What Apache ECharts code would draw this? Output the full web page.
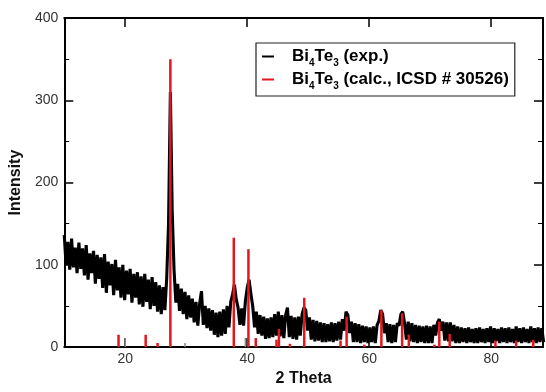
<!DOCTYPE html>
<html>
<head>
<meta charset="utf-8">
<script src="https://cdn.jsdelivr.net/npm/echarts@6/dist/echarts.min.js"></script>
<style>
  html, body { margin: 0; padding: 0; background: #fff; }
  #chart { width: 546px; height: 392px; }
</style>
</head>
<body>
<div id="chart"></div>
<script>
// ---------------------------------------------------------------------------
// XRD pattern, Bi4Te3 : measured scan vs. calculated reflections
// ---------------------------------------------------------------------------
const FONT = "'Liberation Sans', Arial, sans-serif";
const RED = "#e3161d";

const scanStart = 10;
const scanStep = 0.3;
const expIntensity = [
  136, 100, 128, 94, 132, 97, 121, 90, 127, 95,
  120, 87, 124, 82, 114, 90, 117, 77, 112, 83,
  109, 72, 113, 66, 104, 75, 101, 63, 106, 69,
  97, 60, 100, 57, 93, 64, 95, 54, 89, 60,
  91, 52, 86, 49, 89, 55, 82, 46, 85, 50,
  79, 43, 75, 40, 73, 45, 84, 150, 310, 165,
  94, 54, 77, 44, 71, 40, 67, 34, 63, 36,
  59, 30, 55, 26, 53, 68, 27, 50, 23, 47,
  20, 45, 15, 42, 12, 43, 14, 46, 16, 50,
  24, 55, 64, 76, 58, 48, 27, 47, 26, 56,
  72, 82, 65, 50, 24, 43, 16, 39, 14, 37,
  10, 35, 11, 36, 12, 40, 14, 43, 13, 39,
  11, 39, 48, 12, 38, 10, 36, 9, 37, 14,
  40, 48, 45, 20, 36, 9, 33, 7, 32, 8,
  30, 6, 29, 6, 28, 7, 30, 6, 29, 8,
  31, 9, 34, 20, 43, 39, 17, 31, 6, 29,
  6, 28, 5, 26, 6, 25, 5, 24, 6, 25,
  5, 27, 32, 45, 40, 17, 29, 6, 28, 5,
  27, 6, 29, 26, 40, 43, 29, 9, 31, 7,
  29, 6, 27, 5, 26, 6, 25, 5, 26, 5,
  25, 5, 27, 14, 30, 34, 20, 31, 8, 30,
  7, 30, 7, 27, 5, 25, 5, 24, 6, 23,
  5, 24, 6, 22, 5, 23, 5, 24, 6, 22,
  5, 23, 6, 25, 5, 23, 7, 22, 5, 24,
  6, 23, 5, 24, 6, 22, 5, 25, 6, 23,
  5, 24, 6, 22, 5, 25, 6, 23, 5, 24,
  6, 23, 6
];

// calculated reflections (ICSD # 30526)
const calcTheta = [18.9, 23.35, 25.3, 27.4, 37.8, 40.2, 41.4, 44.8, 45.2, 47.0, 49.35, 55.3, 56.3, 59.2, 62.0, 65.4, 66.5, 70.7, 71.5, 73.2, 80.7, 84.1, 86.9];
const calcIntensity = [15, 15, 5, 350, 133, 119, 11, 9, 22, 4, 60, 8, 37, 3, 45, 41, 15, 3, 31, 16, 8, 8, 9];

// faint grey markers near the baseline
const greyTheta = [20.0, 29.8, 39.7];
const greyIntensity = [11, 5, 11];

const xTicks = [20, 40, 60, 80];
const expName = "Bi4Te3 (exp.)";
const calcName = "Bi4Te3 (calc., ICSD # 30526)";
const legendRich = {
  [expName]: "{b|Bi}{s|4}{b|Te}{s|3}{b| (exp.)}",
  [calcName]: "{b|Bi}{s|4}{b|Te}{s|3}{b| (calc., ICSD # 30526)}"
};

const expData = expIntensity.map((v, i) => [+(scanStart + i * scanStep).toFixed(1), v]);
const pairs = (xs, ys) => xs.map((x, i) => [x, ys[i]]);

function stick(color, width) {
  return (params, api) => {
    const base = api.coord([api.value(0), 0]);
    const top = api.coord([api.value(0), api.value(1)]);
    return {
      type: "line",
      shape: { x1: base[0], y1: base[1], x2: top[0], y2: top[1] },
      style: { stroke: color, lineWidth: width }
    };
  };
}

const frameLine = { show: true, onZero: false, lineStyle: { color: "#000", width: 2 } };

function xAxis(position, labels) {
  return {
    type: "value", min: 10, max: 88.5, position,
    axisLine: frameLine,
    axisTick: { show: true, inside: true, length: 9, customValues: xTicks, lineStyle: { color: "#000", width: 1.5 } },
    axisLabel: labels
      ? { show: true, customValues: xTicks, fontSize: 14, color: "#333", margin: 5, fontFamily: FONT }
      : { show: false },
    splitLine: { show: false },
    name: labels ? "2 Theta" : "",
    nameLocation: "middle",
    nameGap: 19,
    nameTextStyle: { fontSize: 16, fontWeight: "bold", color: "#111", fontFamily: FONT }
  };
}

function yAxis(position, labels) {
  return {
    type: "value", min: 0, max: 400, interval: 100, position,
    axisLine: frameLine,
    axisTick: { show: true, inside: true, length: 9, lineStyle: { color: "#000", width: 1.5 } },
    minorTick: { show: true, splitNumber: 2, length: 5, lineStyle: { color: "#000", width: 1 } },
    axisLabel: labels
      ? { show: true, fontSize: 14, color: "#333", margin: 6, fontFamily: FONT }
      : { show: false },
    splitLine: { show: false },
    name: labels ? "Intensity" : "",
    nameLocation: "middle",
    nameGap: 33,
    nameRotate: 90,
    nameTextStyle: { fontSize: 16, fontWeight: "bold", color: "#111", fontFamily: FONT }
  };
}

const chart = echarts.init(document.getElementById("chart"));
chart.setOption({
  animation: false,
  backgroundColor: "#fff",
  grid: { left: 62, right: 3, top: 18, bottom: 34, containLabel: false },
  xAxis: [xAxis("bottom", true), xAxis("top", false)],
  yAxis: [yAxis("left", true), yAxis("right", false)],
  legend: {
    left: 256, top: 43,
    orient: "vertical",
    data: [
      { name: expName, icon: "rect" },
      { name: calcName, icon: "rect" }
    ],
    itemWidth: 12, itemHeight: 2, itemGap: 3,
    padding: [5, 6, 5, 6],
    borderColor: "#222", borderWidth: 1.2,
    backgroundColor: "#fff",
    selectedMode: false,
    formatter: (name) => legendRich[name],
    textStyle: {
      padding: [0, 0, 0, 13],
      rich: {
        b: { fontSize: 17, fontWeight: "bold", color: "#000", fontFamily: FONT, lineHeight: 23 },
        s: { fontSize: 10, fontWeight: "bold", color: "#000", fontFamily: FONT, lineHeight: 23, verticalAlign: "bottom" }
      }
    }
  },
  series: [
    {
      name: expName, type: "line", data: expData,
      showSymbol: false, symbol: "none",
      lineStyle: { color: "#000", width: 3.1, join: "bevel" },
      itemStyle: { color: "#000" },
      z: 2
    },
    {
      name: "grey", type: "custom", data: pairs(greyTheta, greyIntensity),
      renderItem: stick("#888", 1.5),
      itemStyle: { color: "#888" },
      z: 3
    },
    {
      name: calcName, type: "custom", data: pairs(calcTheta, calcIntensity),
      renderItem: stick(RED, 2.5),
      itemStyle: { color: RED },
      z: 4
    }
  ]
});
</script>
</body>
</html>
